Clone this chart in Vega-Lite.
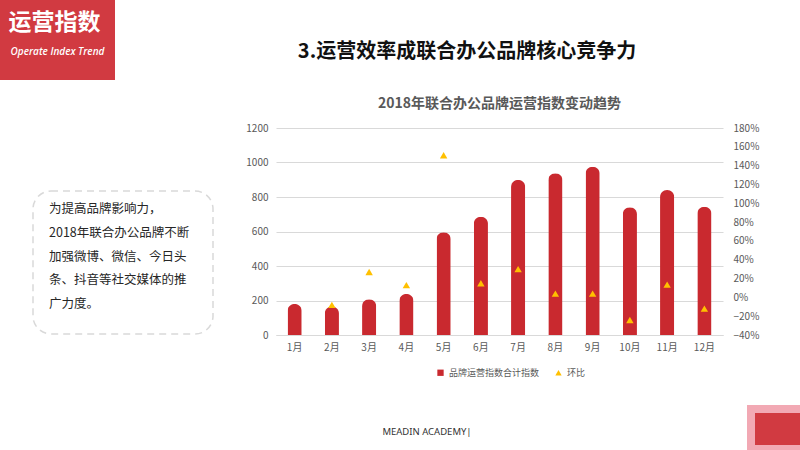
{
  "$schema": "https://vega.github.io/schema/vega-lite/v6.json",
  "padding": 0,
  "background": "#ffffff",
  "config": {
    "view": {"stroke": null},
    "font": "Noto Sans CJK SC"
  },
  "resolve": {"scale": {"color": "independent"}},
  "spacing": 31,
  "hconcat": [
    {
      "spacing": 105,
      "vconcat": [
        {
          "width": 115,
          "height": 80,
          "view": {"fill": "#d13a41", "stroke": null},
          "layer": [
            {
              "data": {"values": [{"label": "运营指数"}]},
              "mark": {"type": "text", "fontSize": 23, "fontWeight": "bold", "fill": "#ffffff", "dy": -17, "dx": -3},
              "encoding": {"text": {"field": "label"}}
            },
            {
              "data": {"values": [{"label": "Operate Index Trend"}]},
              "mark": {"type": "text", "font": "Open Sans", "fontStyle": "italic", "fontWeight": 600, "fontSize": 10, "fill": "#ffffff", "dy": 12},
              "encoding": {"text": {"field": "label"}}
            }
          ]
        },
        {
          "spacing": 31,
          "hconcat": [
            {
              "width": 1,
              "height": 1,
              "data": {"values": [{}]},
              "mark": {"type": "text", "text": ""},
              "encoding": {}
            },
            {
              "width": 180,
              "height": 143,
              "view": {"stroke": "#d9d9d9", "strokeWidth": 1.5, "strokeDash": [7, 5], "cornerRadius": 18},
              "data": {"values": [
                {"i": 1, "line": "为提高品牌影响力，"},
                {"i": 2, "line": "2018年联合办公品牌不断"},
                {"i": 3, "line": "加强微博、微信、今日头"},
                {"i": 4, "line": "条、抖音等社交媒体的推"},
                {"i": 5, "line": "广力度。"}
              ]},
              "mark": {"type": "text", "align": "left", "baseline": "middle", "fontSize": 12.5, "fill": "#262626", "dx": -74},
              "encoding": {
                "y": {"field": "i", "type": "quantitative", "axis": null, "scale": {"domain": [0.24, 6.26], "reverse": true, "zero": false, "nice": false}},
                "text": {"field": "line"}
              }
            }
          ]
        }
      ]
    },
    {
      "spacing": 27,
      "resolve": {"scale": {"color": "independent"}},
      "vconcat": [
        {
          "width": 382,
          "height": 70,
          "data": {"values": [{"t": "3.运营效率成联合办公品牌核心竞争力"}]},
          "mark": {"type": "text", "fontSize": 20, "fontWeight": "bold", "fill": "#111111", "baseline": "middle", "dy": 17},
          "encoding": {"text": {"field": "t"}}
        },
        {
          "width": 447,
          "height": 207,
          "title": {
            "text": "2018年联合办公品牌运营指数变动趋势",
            "fontSize": 14,
            "fontWeight": "bold",
            "color": "#595959",
            "frame": "group",
            "anchor": "middle",
            "offset": 12
          },
          "data": {"values": [
            {"month": "1月", "index": 180, "mom": null},
            {"month": "2月", "index": 165, "mom": -0.08},
            {"month": "3月", "index": 207, "mom": 0.27},
            {"month": "4月", "index": 238, "mom": 0.13},
            {"month": "5月", "index": 595, "mom": 1.51},
            {"month": "6月", "index": 686, "mom": 0.15},
            {"month": "7月", "index": 899, "mom": 0.30},
            {"month": "8月", "index": 937, "mom": 0.04},
            {"month": "9月", "index": 976, "mom": 0.04},
            {"month": "10月", "index": 740, "mom": -0.24},
            {"month": "11月", "index": 840, "mom": 0.135},
            {"month": "12月", "index": 744, "mom": -0.12}
          ]},
          "encoding": {
            "x": {
              "field": "month",
              "type": "ordinal",
              "sort": null,
              "scale": {"paddingInner": 0.62, "paddingOuter": 0.31},
              "axis": {"title": null, "labelAngle": 0, "ticks": false, "domain": true, "domainColor": "#d9d9d9", "labelPadding": 7, "labelFontSize": 10, "labelColor": "#595959"}
            }
          },
          "layer": [
            {
              "mark": {"type": "bar", "cornerRadiusTopLeft": 7, "cornerRadiusTopRight": 7},
              "encoding": {
                "y": {
                  "field": "index",
                  "type": "quantitative",
                  "scale": {"domain": [0, 1200]},
                  "axis": {"title": null, "values": [0, 200, 400, 600, 800, 1000, 1200], "format": "d", "grid": true, "gridColor": "#d9d9d9", "domain": false, "ticks": false, "labelPadding": 8, "labelFontSize": 10, "labelColor": "#595959"}
                },
                "color": {
                  "datum": "品牌运营指数合计指数",
                  "scale": {"domain": ["品牌运营指数合计指数", "环比"], "range": ["#c9292f", "#ffc000"]},
                  "legend": {
                    "orient": "none",
                    "legendX": 160,
                    "legendY": 240,
                    "direction": "horizontal",
                    "title": null,
                    "labelFontSize": 9,
                    "labelColor": "#595959",
                    "symbolSize": 40,
                    "columnPadding": 14,
                    "encode": {"symbols": {"update": {"shape": {"signal": "datum.value === '环比' ? 'triangle-up' : 'square'"}}}}
                  }
                }
              }
            },
            {
              "mark": {"type": "point", "shape": "triangle-up", "filled": true, "size": 55, "opacity": 1},
              "encoding": {
                "y": {
                  "field": "mom",
                  "type": "quantitative",
                  "scale": {"domain": [-0.4, 1.8]},
                  "axis": {"orient": "right", "title": null, "values": [-0.4, -0.2, 0, 0.2, 0.4, 0.6, 0.8, 1, 1.2, 1.4, 1.6, 1.8], "format": ".0%", "grid": false, "domain": false, "ticks": false, "labelPadding": 10, "labelFontSize": 10, "labelColor": "#595959"}
                },
                "color": {"datum": "环比"}
              }
            }
          ],
          "resolve": {"scale": {"y": "independent"}}
        },
        {
          "spacing": 169,
          "hconcat": [
            {
              "width": 302,
              "height": 46,
              "data": {"values": [{"t": "MEADIN ACADEMY|"}]},
              "mark": {"type": "text", "font": "Noto Sans", "fontSize": 9.5, "fill": "#333333", "baseline": "middle"},
              "encoding": {"text": {"field": "t"}}
            },
            {
              "width": 55,
              "height": 40,
              "view": {"fill": "#d13a41", "stroke": "#f2a9b4", "strokeWidth": 8},
              "data": {"values": [{}]},
              "mark": {"type": "text", "text": ""},
              "encoding": {}
            }
          ]
        }
      ]
    }
  ]
}
